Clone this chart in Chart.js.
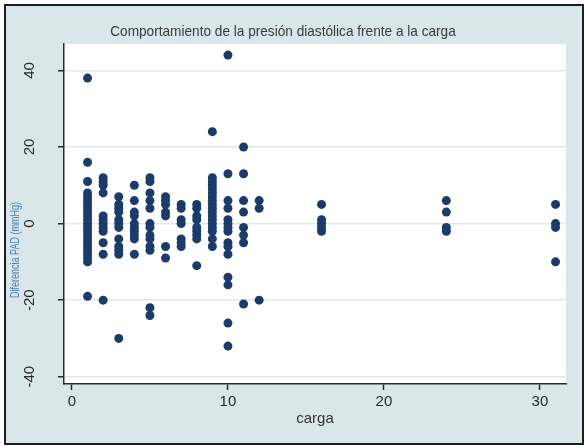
<!DOCTYPE html>
<html>
<head>
<meta charset="utf-8">
<style>
  html, body { margin: 0; padding: 0; background: #ffffff; }
  #wrap { width: 585px; height: 446px; }
</style>
<script src="https://cdn.jsdelivr.net/npm/chart.js@4/dist/chart.umd.min.js"></script>
</head>
<body>
<div id="wrap"><canvas id="c" width="585" height="446"></canvas></div>
<script>
// Carga (x) y diferencia de PAD (mmHg) observada para cada carga
const cargas = [1, 2, 3, 4, 5, 6, 7, 8, 9, 10, 11, 12, 16, 24, 31];
const difPAD = [
  [38, 16, 11, 8, 7, 6, 5, 4, 3, 2, 1, 0, -1, -2, -3, -4, -5, -6, -7, -8, -9, -10, -19],
  [12, 11, 10, 8, 2, 1, 0, -1, -2, -5, -8, -20],
  [7, 5, 4, 3, 1, 0, -1, -4, -6, -7, -8, -30],
  [10, 6, 3, 2, 0, -1, -2, -3, -4, -8],
  [12, 11, 8, 6, 4, 0, -1, -3, -4, -6, -7, -22, -24],
  [7, 6, 5, 3, 2, -6, -9],
  [5, 4, 1, 0, -4, -5, -6],
  [5, 4, 2, 1, -1, -2, -3, -4, -11],
  [24, 12, 11, 10, 9, 8, 7, 6, 5, 4, 3, 2, 1, 0, -1, -2, -4, -6],
  [44, 13, 6, 4, 1, 0, -1, -2, -5, -6, -8, -14, -16, -26, -32],
  [20, 13, 6, 3, -1, -3, -5, -21],
  [6, 4, -20],
  [5, 1, 0, -1, -2],
  [6, 3, -1, -2],
  [5, 0, -1, -10]
];
const xTicks = [0, 10, 20, 30];
const yTicks = [-40, -20, 0, 20, 40];

const tituloGrafico = 'Comportamiento de la presión diastólica frente a la carga';
const tituloX = 'carga';
const tituloY = 'Diferencia PAD (mmHg)';

const puntos = [];
cargas.forEach((c, i) => difPAD[i].forEach(v => puntos.push({ x: c, y: v })));

const FONT = '"Liberation Sans", Arial, sans-serif';

// Marco exterior, fondo gris azulado y textos propios del gráfico
const marco = {
  id: 'marco',
  beforeDraw(chart) {
    const ctx = chart.ctx;
    const a = chart.chartArea;
    ctx.save();
    ctx.fillStyle = '#ffffff';
    ctx.fillRect(0, 0, chart.width, chart.height);
    ctx.fillStyle = '#d9e7eb';
    ctx.fillRect(5, 5, 578, 439);
    ctx.strokeStyle = '#1e1e1e';
    ctx.lineWidth = 2;
    ctx.strokeRect(5, 5, 578, 439);
    ctx.fillStyle = '#ffffff';
    ctx.fillRect(a.left, a.top, a.right - a.left, a.bottom - a.top);
    ctx.restore();
  },
  afterDraw(chart) {
    const ctx = chart.ctx;
    const a = chart.chartArea;
    const ys = chart.scales.y;
    ctx.save();
    // título
    ctx.save();
    ctx.translate(283, 32);
    ctx.scale(0.94, 1);
    ctx.fillStyle = '#3a3a3a';
    ctx.font = '14.5px ' + FONT;
    ctx.textAlign = 'center';
    ctx.textBaseline = 'middle';
    ctx.fillText(tituloGrafico, 0, 0);
    ctx.restore();
    // etiquetas del eje y, verticales
    ctx.fillStyle = '#2a2a2a';
    ctx.font = '15px ' + FONT;
    yTicks.forEach(v => {
      const py = ys.getPixelForValue(v);
      ctx.save();
      ctx.translate(30, py);
      ctx.rotate(-Math.PI / 2);
      ctx.textAlign = 'center';
      ctx.textBaseline = 'middle';
      ctx.fillText(String(v), 0, 0);
      ctx.restore();
    });
    // título del eje y
    ctx.save();
    ctx.translate(16, 250);
    ctx.rotate(-Math.PI / 2);
    ctx.scale(0.72, 1);
    ctx.fillStyle = '#4a7fb8';
    ctx.font = '12.5px ' + FONT;
    ctx.textAlign = 'center';
    ctx.textBaseline = 'middle';
    ctx.fillText(tituloY, 0, 0);
    ctx.restore();
    // título del eje x
    ctx.fillStyle = '#333333';
    ctx.font = '15px ' + FONT;
    ctx.textAlign = 'center';
    ctx.textBaseline = 'middle';
    ctx.fillText(tituloX, (a.left + a.right) / 2, 419);
    ctx.restore();
  }
};

new Chart(document.getElementById('c'), {
  type: 'scatter',
  data: {
    datasets: [{
      data: puntos,
      backgroundColor: '#1b3c6b',
      borderColor: '#1b3c6b',
      borderWidth: 0,
      pointRadius: 4.5,
      pointHoverRadius: 4.5
    }]
  },
  options: {
    responsive: false,
    animation: false,
    events: [],
    layout: { padding: { top: 44, right: 19, bottom: 0, left: 0 } },
    plugins: { legend: { display: false }, tooltip: { enabled: false }, title: { display: false } },
    scales: {
      x: {
        type: 'linear',
        min: -0.51,
        max: 31.67,
        afterBuildTicks: s => { s.ticks = xTicks.map(v => ({ value: v })); },
        afterFit: s => { s.height = 62; },
        grid: { drawOnChartArea: false, drawTicks: true, tickLength: 6, tickColor: '#2a2a2a', tickWidth: 1.5 },
        border: { display: true, color: '#2a2a2a', width: 1.5 },
        ticks: { color: '#2a2a2a', font: { family: FONT, size: 15 }, padding: 3, maxRotation: 0 }
      },
      y: {
        type: 'linear',
        min: -41.9,
        max: 46.9,
        afterBuildTicks: s => { s.ticks = yTicks.map(v => ({ value: v })); },
        afterFit: s => { s.width = 64; },
        grid: { color: '#dfe9ed', lineWidth: 1.5, drawTicks: true, tickLength: 6, tickColor: '#2a2a2a', tickWidth: 1.5 },
        border: { display: true, color: '#2a2a2a', width: 1.5 },
        ticks: { display: false }
      }
    }
  },
  plugins: [marco]
});
</script>
</body>
</html>
